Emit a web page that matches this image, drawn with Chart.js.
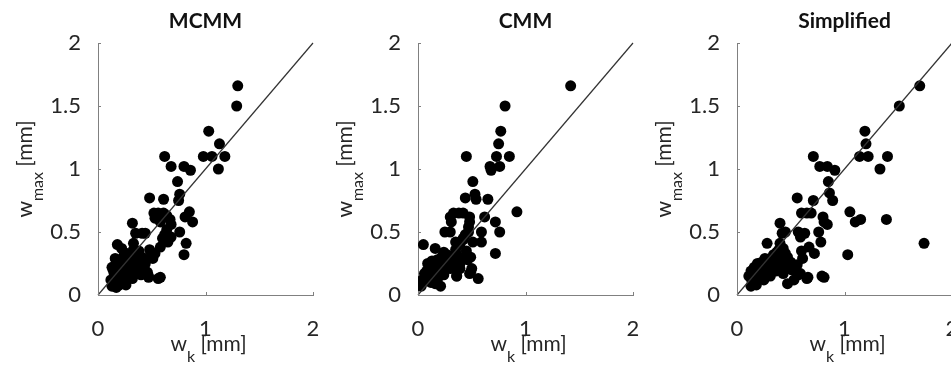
<!DOCTYPE html>
<html>
<head>
<meta charset="utf-8">
<script src="https://cdn.jsdelivr.net/npm/chart.js@4/dist/chart.umd.min.js"></script>
<style>
  html, body { margin: 0; padding: 0; background: #fff; overflow: hidden; }
  #wrap { position: relative; width: 951px; height: 376px; }
  canvas { position: absolute; top: 0; }
</style>
</head>
<body>
<div id="wrap">
  <canvas id="c0" style="left:0px"></canvas>
  <canvas id="c1" style="left:320px"></canvas>
  <canvas id="c2" style="left:639px"></canvas>
</div>
<script>
// panel titles
const titles = ['MCMM', 'CMM', 'Simplified'];

// axis ticks
const xTicks = [0, 1, 2];
const yTicks = [0, 0.5, 1, 1.5, 2];

// reference line w_max = w_k
const diagX = [0, 2];
const diagY = [0, 2];

// [w_k, w_max] pairs
const mcmmPoints = [
  [1.30,1.66],[1.29,1.50],[1.03,1.30],[1.13,1.20],[0.98,1.10],[1.06,1.10],[1.18,1.10],[1.12,1.00],
  [0.62,1.10],[0.68,1.02],[0.80,1.02],[0.86,0.99],[0.74,0.90],[0.76,0.80],[0.75,0.75],[0.61,0.76],[0.48,0.77],
  [0.52,0.65],[0.56,0.65],[0.61,0.65],[0.64,0.63],[0.85,0.66],[0.81,0.62],[0.88,0.58],[0.53,0.61],[0.58,0.58],
  [0.67,0.60],[0.68,0.56],[0.32,0.57],[0.35,0.49],[0.41,0.49],[0.44,0.49],[0.64,0.52],[0.62,0.48],[0.60,0.45],
  [0.68,0.46],[0.65,0.42],[0.76,0.50],[0.82,0.41],[0.80,0.32],[0.18,0.40],[0.22,0.37],[0.33,0.41],[0.33,0.36],
  [0.58,0.38],[0.53,0.33],[0.48,0.36],[0.51,0.29],[0.39,0.28],[0.44,0.25],[0.58,0.14],[0.47,0.15],
  [0.13,0.22],[0.18,0.25],[0.22,0.27],[0.27,0.29],[0.30,0.30],[0.36,0.32],[0.24,0.21],[0.15,0.17],[0.12,0.12],
  [0.13,0.07],[0.21,0.14],[0.27,0.12],[0.26,0.08],[0.33,0.20],[0.36,0.17],[0.32,0.13],[0.39,0.22],[0.46,0.18],
  [0.47,0.14],[0.56,0.13],[0.18,0.09],[0.20,0.20],[0.16,0.29],[0.15,0.10],[0.17,0.14],[0.19,0.18],[0.22,0.11],
  [0.25,0.16],[0.28,0.22],[0.30,0.25],[0.14,0.20],[0.17,0.06],[0.23,0.24],[0.20,0.08],[0.29,0.17],[0.35,0.26],
  [0.41,0.30],[0.38,0.35],[0.27,0.33],[0.24,0.31],[0.49,0.30],[0.43,0.21],[0.40,0.16],[0.34,0.23]
];

const cmmPoints = [
  [1.42,1.66],[0.81,1.50],[0.77,1.30],[0.75,1.20],[0.45,1.10],[0.73,1.10],[0.85,1.10],[0.67,1.02],[0.68,0.99],
  [0.76,1.02],[0.51,0.90],[0.53,0.80],[0.54,0.76],[0.65,0.76],[0.44,0.77],[0.92,0.66],
  [0.33,0.65],[0.38,0.65],[0.42,0.65],[0.30,0.62],[0.31,0.58],[0.48,0.62],[0.48,0.58],[0.47,0.54],[0.47,0.50],
  [0.44,0.48],[0.42,0.44],[0.39,0.40],[0.62,0.62],[0.72,0.58],[0.25,0.50],[0.30,0.50],[0.59,0.50],[0.76,0.50],
  [0.51,0.42],[0.59,0.42],[0.72,0.33],[0.05,0.40],[0.16,0.37],[0.24,0.34],[0.36,0.15],[0.50,0.21],[0.48,0.17],
  [0.56,0.13],[0.42,0.45],[0.35,0.42],
  [0.09,0.25],[0.13,0.27],[0.18,0.28],[0.22,0.30],[0.27,0.32],[0.30,0.30],[0.36,0.32],[0.33,0.26],[0.39,0.25],
  [0.46,0.28],[0.49,0.30],[0.12,0.20],[0.06,0.17],[0.04,0.12],[0.03,0.07],[0.10,0.13],[0.16,0.17],[0.21,0.20],
  [0.18,0.12],[0.24,0.16],[0.30,0.21],[0.39,0.21],[0.21,0.07],[0.49,0.18],[0.36,0.15],[0.08,0.19],[0.14,0.22],
  [0.12,0.10],[0.26,0.24],[0.43,0.30],[0.16,0.09],[0.19,0.24],[0.35,0.36],[0.45,0.35]
];

const simplifiedPoints = [
  [1.70,1.66],[1.51,1.50],[1.19,1.30],[1.20,1.20],[1.14,1.10],[1.22,1.10],[1.40,1.10],[1.33,1.00],
  [0.71,1.10],[0.77,1.02],[0.84,1.02],[0.91,0.99],[0.85,0.90],[0.86,0.81],[0.89,0.75],[0.56,0.77],[0.71,0.75],
  [1.05,0.66],[1.10,0.58],[1.15,0.60],[1.39,0.60],[1.74,0.41],[1.03,0.32],
  [0.60,0.65],[0.65,0.65],[0.69,0.65],[0.80,0.62],[0.81,0.58],[0.84,0.56],[0.40,0.57],[0.42,0.49],[0.45,0.50],
  [0.57,0.50],[0.59,0.46],[0.63,0.49],[0.76,0.50],[0.78,0.42],[0.72,0.33],[0.61,0.29],[0.28,0.41],[0.79,0.15],
  [0.66,0.14],[0.55,0.20],[0.59,0.17],[0.47,0.09],
  [0.40,0.41],[0.43,0.37],[0.37,0.34],[0.34,0.32],[0.31,0.29],[0.28,0.26],[0.23,0.26],[0.19,0.25],[0.16,0.22],
  [0.13,0.19],[0.11,0.15],[0.14,0.11],[0.13,0.07],[0.19,0.12],[0.23,0.17],[0.28,0.20],[0.33,0.22],[0.37,0.26],
  [0.42,0.28],[0.47,0.30],[0.50,0.26],[0.47,0.21],[0.43,0.17],[0.51,0.20],[0.56,0.24],[0.57,0.16],[0.53,0.12],
  [0.65,0.13],[0.81,0.14],[0.38,0.30],[0.41,0.24],[0.36,0.19],[0.31,0.15],[0.25,0.12],[0.18,0.08],[0.21,0.22],
  [0.45,0.33],[0.39,0.36],[0.33,0.27],[0.26,0.29],[0.16,0.14],[0.60,0.35],[0.67,0.38]
];

const panels = [mcmmPoints, cmmPoints, simplifiedPoints];

const FONT = 'Lato, "Open Sans", sans-serif';
const TEXT = '#262626';
const AXIS = '#808080';

const decorations = {
  id: 'decorations',
  afterDraw(chart, args, opts) {
    const ctx = chart.ctx;
    const a = chart.chartArea;
    const xs = chart.scales.x, ys = chart.scales.y;
    const cx = (a.left + a.right) / 2;
    ctx.save();
    // inward tick marks
    ctx.strokeStyle = AXIS;
    ctx.lineWidth = 1;
    ctx.beginPath();
    yTicks.forEach(v => {
      const py = Math.round(ys.getPixelForValue(v)) + 0.5;
      ctx.moveTo(a.left, py); ctx.lineTo(a.left + 3, py);
    });
    xTicks.forEach(v => {
      const px = Math.round(xs.getPixelForValue(v)) + 0.5;
      ctx.moveTo(px, a.bottom); ctx.lineTo(px, a.bottom - 3);
    });
    ctx.stroke();

    // title
    ctx.fillStyle = '#111';
    ctx.font = 'bold 21px ' + FONT;
    ctx.textAlign = 'center';
    ctx.textBaseline = 'alphabetic';
    ctx.fillText(opts.title, cx, 28);

    // composite label with subscript
    const drawLabel = (main, sub, rest, x, y) => {
      ctx.fillStyle = TEXT;
      ctx.font = '21px ' + FONT;
      const w1 = ctx.measureText(main).width;
      const w3 = ctx.measureText(rest).width;
      ctx.font = '16px ' + FONT;
      const w2 = ctx.measureText(sub).width;
      let sx = x - (w1 + w2 + w3) / 2;
      ctx.textAlign = 'left';
      ctx.font = '21px ' + FONT;
      ctx.fillText(main, sx, y);
      sx += w1;
      ctx.font = '16px ' + FONT;
      ctx.fillText(sub, sx, y + 11);
      sx += w2;
      ctx.font = '21px ' + FONT;
      ctx.fillText(rest, sx, y);
    };
    drawLabel('w', 'k', ' [mm]', cx + 3, 351);

    ctx.translate(32, (a.top + a.bottom) / 2);
    ctx.rotate(-Math.PI / 2);
    drawLabel('w', 'max', ' [mm]', 0, 0);
    ctx.restore();
  }
};

panels.forEach((pts, i) => {
  const canvas = document.getElementById('c' + i);
  canvas.width = 320;
  canvas.height = 376;
  canvas.style.width = '320px';
  canvas.style.height = '376px';
  const ctx = canvas.getContext('2d');

  new Chart(ctx, {
    type: 'scatter',
    data: {
      datasets: [
        {
          data: pts.map(p => ({ x: p[0], y: p[1] })),
          backgroundColor: '#000',
          borderWidth: 0,
          pointRadius: 5.5,
          pointHoverRadius: 5.5,
          order: 2
        },
        {
          type: 'line',
          data: diagX.map((x, k) => ({ x: x, y: diagY[k] })),
          borderColor: '#333',
          borderWidth: 1.2,
          pointRadius: 0,
          fill: false,
          clip: false,
          order: 1
        }
      ]
    },
    options: {
      responsive: false,
      animation: false,
      events: [],
      layout: { padding: { top: 43, right: 7, left: 0, bottom: 0 } },
      plugins: {
        legend: { display: false },
        tooltip: { enabled: false },
        decorations: { title: titles[i] }
      },
      scales: {
        x: {
          type: 'linear',
          min: 0, max: 2,
          afterFit: s => { s.height = 81; s.paddingLeft = 0; s.paddingRight = 0; },
          afterBuildTicks: s => { s.ticks = xTicks.map(v => ({ value: v })); },
          grid: { display: false },
          border: { display: true, color: AXIS, width: 1 },
          ticks: { color: TEXT, font: { family: FONT, size: 22 }, padding: 13, maxRotation: 0,
                   callback: v => String(v) }
        },
        y: {
          type: 'linear',
          min: 0, max: 2,
          afterFit: s => { s.width = 98; s.paddingTop = 0; s.paddingBottom = 0; },
          afterBuildTicks: s => { s.ticks = yTicks.map(v => ({ value: v })); },
          grid: { display: false },
          border: { display: true, color: AXIS, width: 1 },
          ticks: { color: TEXT, font: { family: FONT, size: 22 }, padding: 9,
                   callback: v => String(v) }
        }
      }
    },
    plugins: [decorations]
  });
});
</script>
</body>
</html>
